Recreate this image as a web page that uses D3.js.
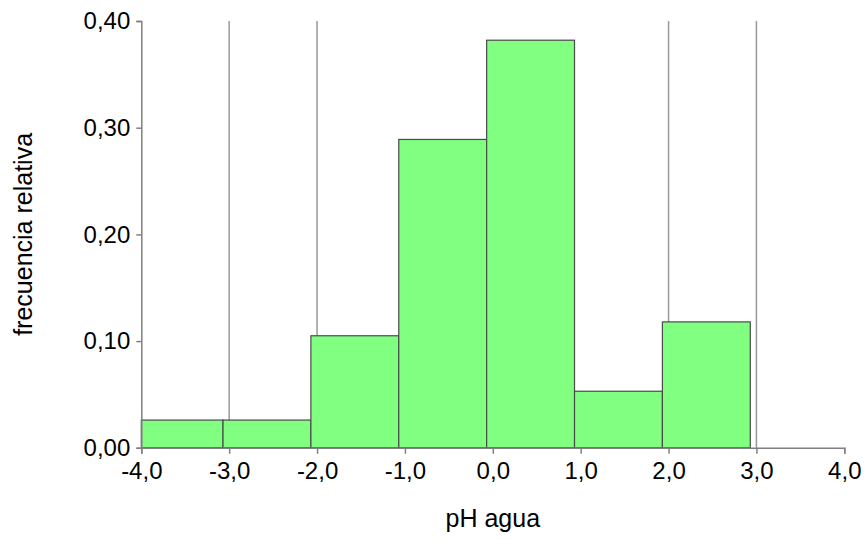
<!DOCTYPE html>
<html>
<head>
<meta charset="utf-8">
<script src="https://cdn.jsdelivr.net/npm/d3@7"></script>
<style>
  body { margin: 0; background: #fff; }
  text { font-family: "Liberation Sans", Arial, sans-serif; }
</style>
</head>
<body>
<div id="viz"></div>
<script>
// histogram data: bin edges and relative frequencies
const binEdges = [-4.0, -3.07, -2.07, -1.07, -0.07, 0.93, 1.93, 2.93, 3.93];
const relFreq = [0.026, 0.026, 0.105, 0.289, 0.382, 0.053, 0.118, 0.0];
const xTicks = [-4, -3, -2, -1, 0, 1, 2, 3, 4];
const yTicks = [0, 0.1, 0.2, 0.3, 0.4];
const refLines = [-3, -2, 2, 3];

const width = 866, height = 540;
const svg = d3.select("#viz").append("svg")
    .attr("width", width)
    .attr("height", height);

const x = d3.scaleLinear().domain([-4, 4]).range([141.3, 844.3]);
const y = d3.scaleLinear().domain([0, 0.4]).range([447.8, 21]);
// comma decimals, plain hyphen for negatives
const fmt = d => d3.format(".1f")(d).replace(".", ",").replace("\u2212", "-");
const fmtY = d => d3.format(".2f")(d).replace(".", ",");

// reference lines (behind bars)
svg.append("g").selectAll("line")
    .data(refLines)
    .enter().append("line")
    .attr("x1", d => x(d)).attr("x2", d => x(d))
    .attr("y1", y(0.4)).attr("y2", y(0))
    .attr("stroke", "#999")
    .attr("stroke-width", 1.5);

// bars
const bins = relFreq.map((v, i) => ({ x0: binEdges[i], x1: binEdges[i + 1], v: v }));
svg.append("g").selectAll("rect")
    .data(bins)
    .enter().append("rect")
    .attr("x", d => x(d.x0))
    .attr("width", d => x(d.x1) - x(d.x0))
    .attr("y", d => y(d.v))
    .attr("height", d => y(0) - y(d.v))
    .attr("fill", "#80ff80")
    .attr("stroke", "#4a4a4a")
    .attr("stroke-width", 1.2);

// axes
const xAxis = svg.append("g")
    .attr("transform", `translate(0,${y(0)})`)
    .call(d3.axisBottom(x).tickValues(xTicks).tickFormat(fmt).tickSize(6).tickPadding(8));
const yAxis = svg.append("g")
    .attr("transform", `translate(${x(-4)},0)`)
    .call(d3.axisLeft(y).tickValues(yTicks).tickFormat(fmtY).tickSize(5).tickPadding(6));

[xAxis, yAxis].forEach(g => {
    g.select(".domain").attr("stroke", "#808080").attr("stroke-width", 1.5);
    g.selectAll(".tick line").attr("stroke", "#808080").attr("stroke-width", 1.5);
    g.selectAll(".tick text")
        .attr("fill", "#000")
        .style("font-size", "24px")
        .style("font-family", "Liberation Sans, Arial, sans-serif");
});

// axis titles
svg.append("text")
    .attr("x", x(0))
    .attr("y", 527)
    .attr("text-anchor", "middle")
    .style("font-size", "25px")
    .text("pH agua");

svg.append("text")
    .attr("transform", `translate(32,${y(0.2)}) rotate(-90)`)
    .attr("text-anchor", "middle")
    .style("font-size", "25px")
    .text("frecuencia relativa");
</script>
</body>
</html>
